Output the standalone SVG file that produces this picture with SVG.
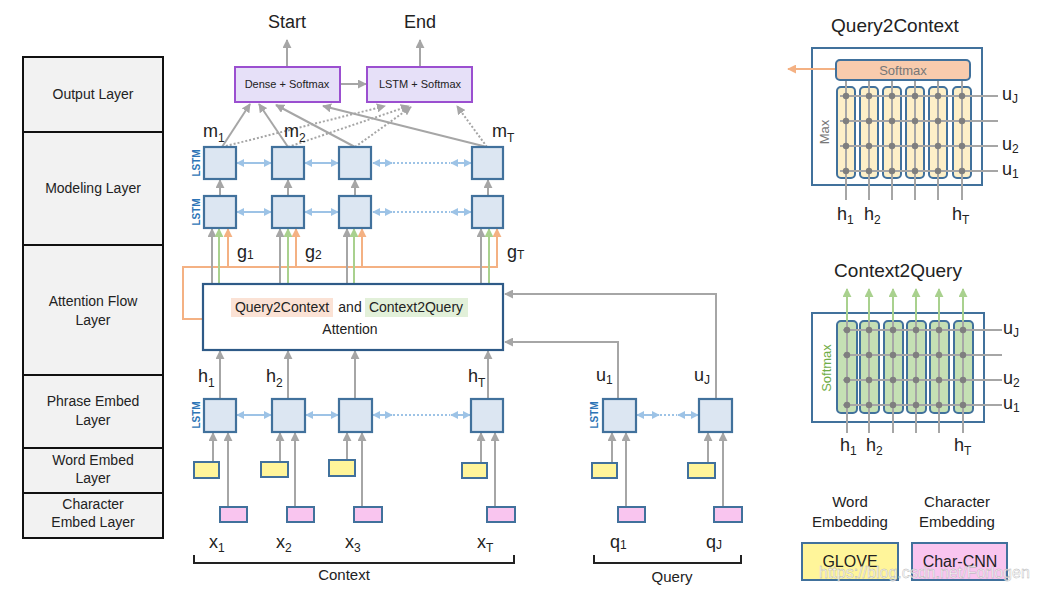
<svg xmlns="http://www.w3.org/2000/svg" width="1037" height="592" viewBox="0 0 1037 592">
<defs>
<marker id="ag" viewBox="0 0 10 10" refX="9" refY="5" markerWidth="9" markerHeight="9" markerUnits="userSpaceOnUse" orient="auto-start-reverse"><path d="M0,0 L10,5 L0,10 z" fill="#a6a6a6"/></marker>
<marker id="agr" viewBox="0 0 10 10" refX="9" refY="5" markerWidth="9" markerHeight="9" markerUnits="userSpaceOnUse" orient="auto-start-reverse"><path d="M0,0 L10,5 L0,10 z" fill="#a9d18e"/></marker>
<marker id="ao" viewBox="0 0 10 10" refX="9" refY="5" markerWidth="9" markerHeight="9" markerUnits="userSpaceOnUse" orient="auto-start-reverse"><path d="M0,0 L10,5 L0,10 z" fill="#f4b183"/></marker>
<marker id="ab" viewBox="0 0 10 10" refX="9" refY="5" markerWidth="8" markerHeight="8" markerUnits="userSpaceOnUse" orient="auto-start-reverse"><path d="M0,0 L10,5 L0,10 z" fill="#9dc3e6"/></marker>
</defs>
<style>
text{font-family:"Liberation Sans",Arial,sans-serif;fill:#222}
.lay{fill:#f2f2f2;stroke:#111;stroke-width:2}
.lt{font-size:14px;text-anchor:middle}
.cell{fill:#dce6f2;stroke:#41719c;stroke-width:2.2}
.out{fill:#e6e0f8;stroke:#9b4fd0;stroke-width:2}
.yel{fill:#fff59a;stroke:#41719c;stroke-width:2}
.pnk{fill:#f9c5ef;stroke:#41719c;stroke-width:2}
.g{stroke:#a6a6a6;stroke-width:2;fill:none}
.gd{stroke:#a6a6a6;stroke-width:2;fill:none;stroke-dasharray:2 2}
.gr{stroke:#a9d18e;stroke-width:2;fill:none}
.or{stroke:#f4b183;stroke-width:2;fill:none}
.bl{stroke:#9dc3e6;stroke-width:2;fill:none}
.bld{stroke:#9dc3e6;stroke-width:2;fill:none;stroke-dasharray:2 2}
.lstm{font-size:10px;fill:#2e75b6;text-anchor:middle;font-weight:bold}
.v{font-size:18px}
.s{font-size:12px}
.big{font-size:18px;text-anchor:middle}
.pbox{fill:#fff;stroke:#41719c;stroke-width:2}
.grid{stroke:#a6a6a6;stroke-width:2;fill:none}
.dot{fill:#7f7f7f}
.ycol{fill:#fdefc8;stroke:#41719c;stroke-width:2}
.gcol{fill:#c5e0b4;stroke:#41719c;stroke-width:2}
</style>
<rect width="1037" height="592" fill="#fff"/>

<g id="layers">
<rect class="lay" x="23" y="57" width="140" height="75"/>
<rect class="lay" x="23" y="132" width="140" height="113"/>
<rect class="lay" x="23" y="245" width="140" height="130"/>
<rect class="lay" x="23" y="375" width="140" height="73"/>
<rect class="lay" x="23" y="448" width="140" height="45"/>
<rect class="lay" x="23" y="493" width="140" height="45"/>
<text class="lt" x="93" y="99">Output Layer</text>
<text class="lt" x="93" y="193">Modeling Layer</text>
<text class="lt" x="93" y="306">Attention Flow</text>
<text class="lt" x="93" y="325">Layer</text>
<text class="lt" x="93" y="406">Phrase Embed</text>
<text class="lt" x="93" y="425">Layer</text>
<text class="lt" x="93" y="465">Word Embed</text>
<text class="lt" x="93" y="483">Layer</text>
<text class="lt" x="93" y="509">Character</text>
<text class="lt" x="93" y="527">Embed Layer</text>
</g>

<g id="connectors">
<!-- output -->
<line class="g" x1="287" y1="67" x2="287" y2="40" marker-end="url(#ag)"/>
<line class="g" x1="420" y1="67" x2="420" y2="40" marker-end="url(#ag)"/>
<line class="g" x1="340" y1="84" x2="366" y2="84" marker-end="url(#ag)"/>
<line class="g" x1="222" y1="147" x2="250" y2="104" marker-end="url(#ag)"/>
<line class="g" x1="288" y1="147" x2="259" y2="104" marker-end="url(#ag)"/>
<line class="g" x1="355" y1="147" x2="276" y2="105" marker-end="url(#ag)"/>
<line class="g" x1="487" y1="147" x2="323" y2="106" marker-end="url(#ag)"/>
<line class="gd" x1="222" y1="147" x2="385" y2="106" marker-end="url(#ag)"/>
<line class="gd" x1="288" y1="147" x2="409" y2="106" marker-end="url(#ag)"/>
<line class="gd" x1="355" y1="147" x2="411" y2="107" marker-end="url(#ag)"/>
<line class="gd" x1="487" y1="147" x2="457" y2="106" marker-end="url(#ag)"/>
<!-- modeling -->
<line class="g" x1="220" y1="196" x2="220" y2="180" marker-end="url(#ag)"/>
<line class="g" x1="288" y1="196" x2="288" y2="180" marker-end="url(#ag)"/>
<line class="g" x1="355" y1="196" x2="355" y2="180" marker-end="url(#ag)"/>
<line class="g" x1="488" y1="196" x2="488" y2="180" marker-end="url(#ag)"/>
<line class="bl" x1="237" y1="163" x2="271" y2="163" marker-start="url(#ab)" marker-end="url(#ab)"/>
<line class="bl" x1="305" y1="163" x2="338" y2="163" marker-start="url(#ab)" marker-end="url(#ab)"/>
<line class="bl" x1="373" y1="163" x2="392" y2="163" marker-start="url(#ab)" marker-end="url(#ab)"/>
<line class="bld" x1="393" y1="163" x2="450" y2="163"/>
<line class="bl" x1="451" y1="163" x2="471" y2="163" marker-start="url(#ab)" marker-end="url(#ab)"/>
<line class="bl" x1="237" y1="212" x2="271" y2="212" marker-start="url(#ab)" marker-end="url(#ab)"/>
<line class="bl" x1="305" y1="212" x2="338" y2="212" marker-start="url(#ab)" marker-end="url(#ab)"/>
<line class="bl" x1="373" y1="212" x2="392" y2="212" marker-start="url(#ab)" marker-end="url(#ab)"/>
<line class="bld" x1="393" y1="212" x2="450" y2="212"/>
<line class="bl" x1="451" y1="212" x2="471" y2="212" marker-start="url(#ab)" marker-end="url(#ab)"/>
<!-- attention outputs -->
<path class="or" d="M203,319 H183 V267 H498"/>
<line class="g" x1="212" y1="284" x2="212" y2="229" marker-end="url(#ag)"/>
<line class="gr" x1="219" y1="284" x2="219" y2="229" marker-end="url(#agr)"/>
<line class="or" x1="228" y1="267" x2="228" y2="229" marker-end="url(#ao)"/>
<line class="g" x1="280" y1="284" x2="280" y2="229" marker-end="url(#ag)"/>
<line class="gr" x1="288" y1="284" x2="288" y2="229" marker-end="url(#agr)"/>
<line class="or" x1="296" y1="267" x2="296" y2="229" marker-end="url(#ao)"/>
<line class="g" x1="347" y1="284" x2="347" y2="229" marker-end="url(#ag)"/>
<line class="gr" x1="354" y1="284" x2="354" y2="229" marker-end="url(#agr)"/>
<line class="or" x1="362" y1="267" x2="362" y2="229" marker-end="url(#ao)"/>
<line class="g" x1="481" y1="284" x2="481" y2="229" marker-end="url(#ag)"/>
<line class="gr" x1="489" y1="284" x2="489" y2="229" marker-end="url(#agr)"/>
<line class="or" x1="497" y1="267" x2="497" y2="229" marker-end="url(#ao)"/>
<!-- phrase to attention -->
<line class="g" x1="220" y1="399" x2="220" y2="351" marker-end="url(#ag)"/>
<line class="g" x1="288" y1="399" x2="288" y2="351" marker-end="url(#ag)"/>
<line class="g" x1="355" y1="399" x2="355" y2="351" marker-end="url(#ag)"/>
<line class="g" x1="488" y1="399" x2="488" y2="351" marker-end="url(#ag)"/>
<path class="g" d="M618,399 V342 H505" marker-end="url(#ag)"/>
<path class="g" d="M716,399 V294 H505" marker-end="url(#ag)"/>
<!-- phrase bi-arrows -->
<line class="bl" x1="237" y1="415" x2="271" y2="415" marker-start="url(#ab)" marker-end="url(#ab)"/>
<line class="bl" x1="306" y1="415" x2="338" y2="415" marker-start="url(#ab)" marker-end="url(#ab)"/>
<line class="bl" x1="373" y1="415" x2="392" y2="415" marker-start="url(#ab)" marker-end="url(#ab)"/>
<line class="bld" x1="393" y1="415" x2="450" y2="415"/>
<line class="bl" x1="451" y1="415" x2="470" y2="415" marker-start="url(#ab)" marker-end="url(#ab)"/>
<line class="bl" x1="637" y1="415" x2="659" y2="415" marker-start="url(#ab)" marker-end="url(#ab)"/>
<line class="bld" x1="660" y1="415" x2="677" y2="415"/>
<line class="bl" x1="678" y1="415" x2="698" y2="415" marker-start="url(#ab)" marker-end="url(#ab)"/>
<!-- embeddings to phrase -->
<line class="g" x1="213" y1="462" x2="213" y2="433" marker-end="url(#ag)"/>
<line class="g" x1="228" y1="507" x2="228" y2="433" marker-end="url(#ag)"/>
<line class="g" x1="280" y1="462" x2="280" y2="433" marker-end="url(#ag)"/>
<line class="g" x1="295" y1="507" x2="295" y2="433" marker-end="url(#ag)"/>
<line class="g" x1="347" y1="460" x2="347" y2="433" marker-end="url(#ag)"/>
<line class="g" x1="362" y1="507" x2="362" y2="433" marker-end="url(#ag)"/>
<line class="g" x1="481" y1="463" x2="481" y2="433" marker-end="url(#ag)"/>
<line class="g" x1="495" y1="507" x2="495" y2="433" marker-end="url(#ag)"/>
<line class="g" x1="612" y1="463" x2="612" y2="433" marker-end="url(#ag)"/>
<line class="g" x1="626" y1="507" x2="626" y2="433" marker-end="url(#ag)"/>
<line class="g" x1="708" y1="463" x2="708" y2="433" marker-end="url(#ag)"/>
<line class="g" x1="723" y1="507" x2="723" y2="433" marker-end="url(#ag)"/>
<!-- brackets -->
<path d="M194,555 V563 H514 V555" fill="none" stroke="#222" stroke-width="2"/>
<path d="M594,555 V563 H741 V555" fill="none" stroke="#222" stroke-width="2"/>
</g>

<g id="output">
<rect class="out" x="235" y="67" width="105" height="35"/>
<text x="287" y="88" font-size="11" text-anchor="middle">Dense + Softmax</text>
<rect class="out" x="367" y="67" width="105" height="35"/>
<text x="420" y="88" font-size="11" text-anchor="middle">LSTM + Softmax</text>
<text class="big" x="287" y="28">Start</text>
<text class="big" x="420" y="28">End</text>
</g>

<g id="modeling">
<rect class="cell" x="204" y="147" width="32" height="32"/>
<rect class="cell" x="272" y="147" width="32" height="32"/>
<rect class="cell" x="339" y="147" width="32" height="32"/>
<rect class="cell" x="472" y="147" width="31" height="32"/>
<rect class="cell" x="204" y="196" width="32" height="32"/>
<rect class="cell" x="272" y="196" width="32" height="32"/>
<rect class="cell" x="339" y="196" width="32" height="32"/>
<rect class="cell" x="472" y="196" width="31" height="32"/>
<text class="lstm" transform="translate(200,163) rotate(-90)">LSTM</text>
<text class="lstm" transform="translate(200,212) rotate(-90)">LSTM</text>
<text class="v" x="203" y="137">m<tspan class="s" dy="5">1</tspan></text>
<text class="v" x="284" y="137">m<tspan class="s" dy="5">2</tspan></text>
<text class="v" x="492" y="137">m<tspan class="s" dy="5">T</tspan></text>
<text class="v" x="237" y="258">g<tspan class="s" dy="1">1</tspan></text>
<text class="v" x="305" y="258">g<tspan class="s" dy="1">2</tspan></text>
<text class="v" x="507" y="258">g<tspan class="s" dy="1">T</tspan></text>
</g>

<g id="attention">
<rect x="203" y="284" width="300" height="66" fill="#fff" stroke="#2e5a87" stroke-width="2.2"/>
<rect x="231" y="298" width="102" height="19" fill="#fbe2d5"/>
<rect x="365" y="298" width="103" height="19" fill="#e2f0d9"/>
<text x="282" y="312" font-size="14" text-anchor="middle">Query2Context</text>
<text x="350" y="312" font-size="14" text-anchor="middle">and</text>
<text x="416" y="312" font-size="14" text-anchor="middle">Context2Query</text>
<text x="350" y="334" font-size="14" text-anchor="middle">Attention</text>
</g>

<g id="phrase">
<rect class="cell" x="204" y="399" width="32" height="33"/>
<rect class="cell" x="272" y="399" width="33" height="33"/>
<rect class="cell" x="339" y="399" width="33" height="33"/>
<rect class="cell" x="471" y="399" width="32" height="33"/>
<rect class="cell" x="603" y="399" width="33" height="33"/>
<rect class="cell" x="699" y="399" width="33" height="33"/>
<text class="lstm" transform="translate(200,415) rotate(-90)">LSTM</text>
<text class="lstm" transform="translate(598,415) rotate(-90)">LSTM</text>
<text class="v" x="198" y="382">h<tspan class="s" dy="5">1</tspan></text>
<text class="v" x="266" y="382">h<tspan class="s" dy="5">2</tspan></text>
<text class="v" x="468" y="382">h<tspan class="s" dy="5">T</tspan></text>
<text class="v" x="596" y="381">u<tspan class="s" dy="3">1</tspan></text>
<text class="v" x="694" y="381">u<tspan class="s" dy="3">J</tspan></text>
</g>

<g id="embeddings">
<rect class="yel" x="194" y="462" width="25" height="16"/>
<rect class="yel" x="261" y="462" width="27" height="15"/>
<rect class="yel" x="329" y="460" width="26" height="16"/>
<rect class="yel" x="462" y="463" width="25" height="15"/>
<rect class="yel" x="592" y="463" width="25" height="15"/>
<rect class="yel" x="688" y="463" width="27" height="15"/>
<rect class="pnk" x="220" y="507" width="27" height="15"/>
<rect class="pnk" x="287" y="507" width="27" height="15"/>
<rect class="pnk" x="354" y="507" width="28" height="15"/>
<rect class="pnk" x="487" y="507" width="28" height="15"/>
<rect class="pnk" x="618" y="507" width="27" height="15"/>
<rect class="pnk" x="714" y="507" width="28" height="15"/>
<text class="v" x="209" y="548">x<tspan class="s" dy="4">1</tspan></text>
<text class="v" x="276" y="548">x<tspan class="s" dy="4">2</tspan></text>
<text class="v" x="345" y="548">x<tspan class="s" dy="4">3</tspan></text>
<text class="v" x="477" y="548">x<tspan class="s" dy="4">T</tspan></text>
<text class="v" x="610" y="548">q<tspan class="s" dy="1">1</tspan></text>
<text class="v" x="706" y="548">q<tspan class="s" dy="1">J</tspan></text>
<text x="344" y="580" font-size="15" text-anchor="middle">Context</text>
<text x="672" y="582" font-size="15" text-anchor="middle">Query</text>
</g>

<g id="q2c">
<text x="895" y="32" font-size="19" text-anchor="middle">Query2Context</text>
<rect class="pbox" x="812" y="48" width="170" height="137"/>
<rect class="ycol" x="837" y="87" width="18" height="91" rx="4"/>
<rect class="ycol" x="860" y="87" width="18" height="91" rx="4"/>
<rect class="ycol" x="883" y="87" width="18" height="91" rx="4"/>
<rect class="ycol" x="906" y="87" width="18" height="91" rx="4"/>
<rect class="ycol" x="929" y="87" width="18" height="91" rx="4"/>
<rect class="ycol" x="953" y="87" width="18" height="91" rx="4"/>
<rect x="836" y="60" width="134" height="20" rx="4" fill="#f8cbad" stroke="#41719c" stroke-width="2"/>
<text x="903" y="75" font-size="13" text-anchor="middle" fill="#777" style="fill:#777">Softmax</text>
<line class="or" x1="835" y1="69" x2="788" y2="69" marker-end="url(#ao)"/>
<path class="grid" d="M846,81 V200 M869,81 V200 M892,81 V200 M915,81 V200 M938,81 V200 M962,81 V200 M840,96 H998 M840,121 H998 M840,146 H998 M840,171 H998"/>
<g class="dot">
<circle cx="846" cy="96" r="3.2"/><circle cx="869" cy="96" r="3.2"/><circle cx="892" cy="96" r="3.2"/><circle cx="915" cy="96" r="3.2"/><circle cx="938" cy="96" r="3.2"/><circle cx="962" cy="96" r="3.2"/>
<circle cx="846" cy="121" r="3.2"/><circle cx="869" cy="121" r="3.2"/><circle cx="892" cy="121" r="3.2"/><circle cx="915" cy="121" r="3.2"/><circle cx="938" cy="121" r="3.2"/><circle cx="962" cy="121" r="3.2"/>
<circle cx="846" cy="146" r="3.2"/><circle cx="869" cy="146" r="3.2"/><circle cx="892" cy="146" r="3.2"/><circle cx="915" cy="146" r="3.2"/><circle cx="938" cy="146" r="3.2"/><circle cx="962" cy="146" r="3.2"/>
<circle cx="846" cy="171" r="3.2"/><circle cx="869" cy="171" r="3.2"/><circle cx="892" cy="171" r="3.2"/><circle cx="915" cy="171" r="3.2"/><circle cx="938" cy="171" r="3.2"/><circle cx="962" cy="171" r="3.2"/>
</g>
<text transform="translate(829,132) rotate(-90)" font-size="13" text-anchor="middle" style="fill:#777">Max</text>
<text class="v" x="1002" y="100">u<tspan class="s" dy="3">J</tspan></text>
<text class="v" x="1002" y="150">u<tspan class="s" dy="3">2</tspan></text>
<text class="v" x="1002" y="175">u<tspan class="s" dy="3">1</tspan></text>
<text class="v" x="837" y="220">h<tspan class="s" dy="4">1</tspan></text>
<text class="v" x="864" y="220">h<tspan class="s" dy="4">2</tspan></text>
<text class="v" x="952" y="220">h<tspan class="s" dy="4">T</tspan></text>
</g>

<g id="c2q">
<text x="898" y="277" font-size="19" text-anchor="middle">Context2Query</text>
<rect class="pbox" x="812" y="313" width="172" height="109"/>
<rect class="gcol" x="837" y="321" width="20" height="92" rx="4"/>
<rect class="gcol" x="860" y="321" width="19" height="92" rx="4"/>
<rect class="gcol" x="884" y="321" width="19" height="92" rx="4"/>
<rect class="gcol" x="907" y="321" width="19" height="92" rx="4"/>
<rect class="gcol" x="930" y="321" width="19" height="92" rx="4"/>
<rect class="gcol" x="954" y="321" width="19" height="92" rx="4"/>
<path class="grid" d="M847,433 V321 M869,433 V321 M893,433 V321 M916,433 V321 M939,433 V321 M963,433 V321 M843,330 H1002 M843,355 H1002 M843,380 H1002 M843,405 H1002"/>
<line class="gr" x1="847" y1="321" x2="847" y2="289" marker-end="url(#agr)"/>
<line class="gr" x1="869" y1="321" x2="869" y2="289" marker-end="url(#agr)"/>
<line class="gr" x1="893" y1="321" x2="893" y2="289" marker-end="url(#agr)"/>
<line class="gr" x1="916" y1="321" x2="916" y2="289" marker-end="url(#agr)"/>
<line class="gr" x1="939" y1="321" x2="939" y2="289" marker-end="url(#agr)"/>
<line class="gr" x1="963" y1="321" x2="963" y2="289" marker-end="url(#agr)"/>
<g class="dot">
<circle cx="847" cy="330" r="3.2"/><circle cx="869" cy="330" r="3.2"/><circle cx="893" cy="330" r="3.2"/><circle cx="916" cy="330" r="3.2"/><circle cx="939" cy="330" r="3.2"/><circle cx="963" cy="330" r="3.2"/>
<circle cx="847" cy="355" r="3.2"/><circle cx="869" cy="355" r="3.2"/><circle cx="893" cy="355" r="3.2"/><circle cx="916" cy="355" r="3.2"/><circle cx="939" cy="355" r="3.2"/><circle cx="963" cy="355" r="3.2"/>
<circle cx="847" cy="380" r="3.2"/><circle cx="869" cy="380" r="3.2"/><circle cx="893" cy="380" r="3.2"/><circle cx="916" cy="380" r="3.2"/><circle cx="939" cy="380" r="3.2"/><circle cx="963" cy="380" r="3.2"/>
<circle cx="847" cy="405" r="3.2"/><circle cx="869" cy="405" r="3.2"/><circle cx="893" cy="405" r="3.2"/><circle cx="916" cy="405" r="3.2"/><circle cx="939" cy="405" r="3.2"/><circle cx="963" cy="405" r="3.2"/>
</g>
<text transform="translate(831,368) rotate(-90)" font-size="13" text-anchor="middle" style="fill:#70ad47">Softmax</text>
<text class="v" x="1003" y="334">u<tspan class="s" dy="3">J</tspan></text>
<text class="v" x="1003" y="384">u<tspan class="s" dy="3">2</tspan></text>
<text class="v" x="1003" y="409">u<tspan class="s" dy="3">1</tspan></text>
<text class="v" x="840" y="451">h<tspan class="s" dy="4">1</tspan></text>
<text class="v" x="866" y="451">h<tspan class="s" dy="4">2</tspan></text>
<text class="v" x="954" y="451">h<tspan class="s" dy="4">T</tspan></text>
</g>

<g id="legend">
<text x="850" y="507" font-size="15" text-anchor="middle">Word</text>
<text x="850" y="527" font-size="15" text-anchor="middle">Embedding</text>
<text x="957" y="507" font-size="15" text-anchor="middle">Character</text>
<text x="957" y="527" font-size="15" text-anchor="middle">Embedding</text>
<rect x="802" y="543" width="96" height="37" fill="#fff59a" stroke="#41719c" stroke-width="2"/>
<rect x="912" y="543" width="95" height="37" fill="#f9c5ef" stroke="#41719c" stroke-width="2"/>
<text x="850" y="567" font-size="16" text-anchor="middle">GLOVE</text>
<text x="960" y="567" font-size="16" text-anchor="middle">Char-CNN</text>
<text x="819" y="578" font-size="16" style="fill:#ffffff;fill-opacity:0.75" stroke="#b0b0b0" stroke-width="0.4">https://blog.csdn.net/Forlogen</text>
</g>
</svg>
